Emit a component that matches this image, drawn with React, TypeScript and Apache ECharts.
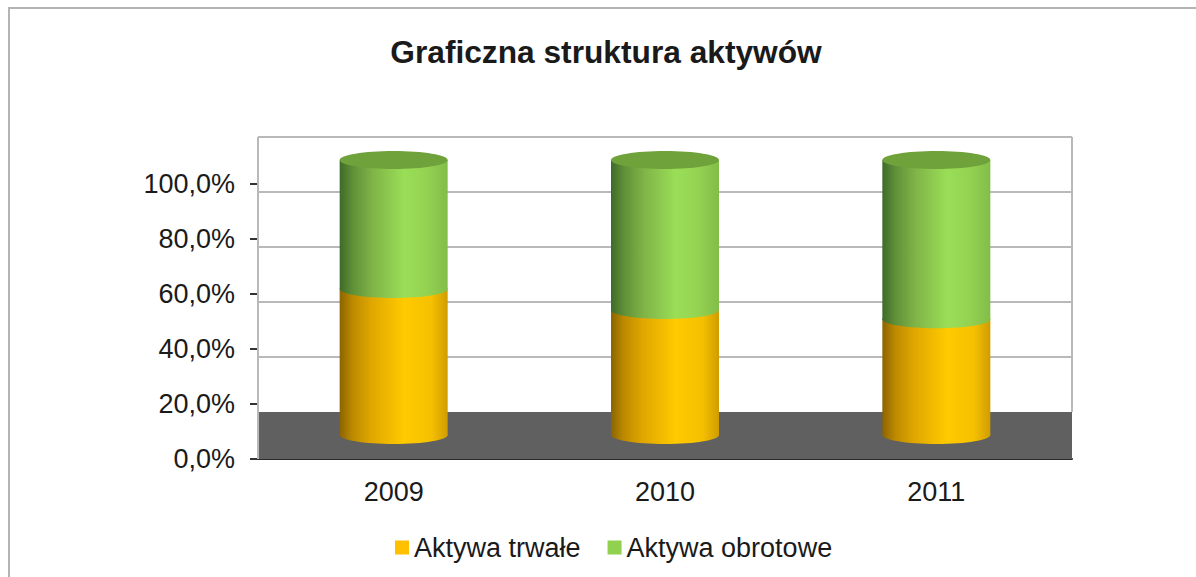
import React, { useEffect, useRef } from "react";
import * as echarts from "echarts";

const categories = ["2009", "2010", "2011"];
const aktywaTrwale = [53.1, 45.5, 42.1];
const aktywaObrotowe = [46.9, 54.5, 57.9];
const yTicks = [0, 20, 40, 60, 80, 100];

const WALL_DEPTH = 47;
const BAR_DEPTH = 24;
const BAR_W = 108;
const RY = 9;

const grad = (stops: [number, string][]) =>
  new echarts.graphic.LinearGradient(0, 0, 1, 0, stops.map(([offset, color]) => ({ offset, color })));

const greenStops: [number, string][] = [
  [0, "#3f6a2a"], [0.12, "#5f9038"], [0.3, "#7fb347"], [0.6, "#9ade57"], [0.8, "#94d352"], [1, "#82bd49"],
];
const orangeStops: [number, string][] = [
  [0, "#8c6400"], [0.12, "#bd8a00"], [0.3, "#e0a800"], [0.6, "#ffca00"], [0.85, "#f5c000"], [1, "#cf9c00"],
];

const cylinder = (stops: [number, string][], capColor: string | null) => (_: any, api: any) => {
  const [cx, y0] = api.coord([api.value(0), api.value(1)]);
  const [, y1] = api.coord([api.value(0), api.value(2)]);
  const bottom = y0 - BAR_DEPTH;
  const top = y1 - BAR_DEPTH;
  const children: any[] = [
    { type: "ellipse", shape: { cx, cy: bottom, rx: BAR_W / 2, ry: RY }, style: { fill: grad(stops) } },
    { type: "rect", shape: { x: cx - BAR_W / 2, y: top, width: BAR_W, height: bottom - top }, style: { fill: grad(stops) } },
  ];
  if (capColor) {
    children.push({ type: "ellipse", shape: { cx, cy: top, rx: BAR_W / 2, ry: RY }, style: { fill: capColor } });
  }
  return { type: "group", children };
};

const wall = (params: any, api: any) => {
  const { x, width } = params.coordSys;
  const y = api.coord([0, api.value(1)])[1] - WALL_DEPTH;
  const line = { stroke: "#b9b9b9", lineWidth: 2 };
  const children: any[] = [];
  if (api.value(1) === 0) {
    const y0 = api.coord([0, 0])[1];
    const yTop = api.coord([0, 100])[1] - WALL_DEPTH;
    children.push(
      { type: "rect", shape: { x, y, width, height: y0 - y }, style: { fill: "#606060" } },
      { type: "line", shape: { x1: x, y1: yTop, x2: x, y2: y0 }, style: line },
      { type: "line", shape: { x1: x + width, y1: yTop, x2: x + width, y2: y }, style: line },
    );
  } else {
    children.push({ type: "line", shape: { x1: x, y1: y, x2: x + width, y2: y }, style: line });
  }
  return { type: "group", children };
};

export default function App() {
  const ref = useRef<HTMLDivElement>(null);
  useEffect(() => {
    const chart = echarts.init(ref.current!, null, { renderer: "svg" });
    const font = "Liberation Sans";
    chart.setOption({
      animation: false,
      backgroundColor: "#ffffff",
      textStyle: { fontFamily: font },
      title: {
        text: "Graficzna struktura aktywów",
        left: 601,
        top: 31,
        textAlign: "center",
        textStyle: { fontFamily: font, fontSize: 31.7, fontWeight: "bold", color: "#1a1a1a" },
      },
      legend: {
        data: ["Aktywa trwałe", "Aktywa obrotowe"],
        left: 395,
        top: 534,
        padding: 0,
        icon: "rect",
        itemWidth: 14,
        itemHeight: 14,
        itemGap: 27,
        textStyle: { fontFamily: font, fontSize: 27, color: "#1a1a1a" },
      },
      grid: { left: 258, right: 124, top: 184, bottom: 118 },
      xAxis: {
        type: "category",
        data: categories,
        axisLine: { lineStyle: { color: "#2a2a2a", width: 2 } },
        axisTick: { alignWithLabel: false, length: 9, lineStyle: { color: "#333333", width: 2 } },
        axisLabel: { fontSize: 27, color: "#1a1a1a", margin: 19, fontFamily: font },
      },
      yAxis: {
        type: "value",
        min: 0,
        max: 100,
        interval: 20,
        axisLine: { show: true, lineStyle: { color: "#444444", width: 2 } },
        axisTick: { show: true, length: 8, lineStyle: { color: "#333333", width: 2 } },
        splitLine: { show: false },
        axisLabel: {
          fontSize: 27,
          color: "#1a1a1a",
          margin: 23,
          fontFamily: font,
          formatter: (v: number) => v.toFixed(1).replace(".", ",") + "%",
        },
      },
      graphic: [
        {
          type: "polyline",
          shape: { points: [[9, 577], [9, 8], [1196, 8]] },
          style: { stroke: "#b4b4b4", lineWidth: 2, fill: "none" },
        },
      ],
      series: [
        {
          name: "wall",
          type: "custom",
          z: 1,
          clip: false,
          silent: true,
          renderItem: wall,
          encode: { x: 0, y: 1 },
          data: yTicks.map((v) => [0, v]),
        },
        {
          name: "Aktywa trwałe",
          type: "custom",
          z: 3,
          clip: false,
          itemStyle: { color: "#ffc000" },
          renderItem: cylinder(orangeStops, null),
          encode: { x: 0, y: [1, 2] },
          data: aktywaTrwale.map((v, i) => [i, 0, v]),
        },
        {
          name: "Aktywa obrotowe",
          type: "custom",
          z: 4,
          clip: false,
          itemStyle: { color: "#92d050" },
          renderItem: cylinder(greenStops, "#70a23c"),
          encode: { x: 0, y: [1, 2] },
          data: aktywaObrotowe.map((v, i) => [i, aktywaTrwale[i], aktywaTrwale[i] + v]),
        },
      ],
    });
    return () => chart.dispose();
  }, []);
  return <div ref={ref} style={{ position: "fixed", left: 0, top: 0, width: 1196, height: 577 }} />;
}
